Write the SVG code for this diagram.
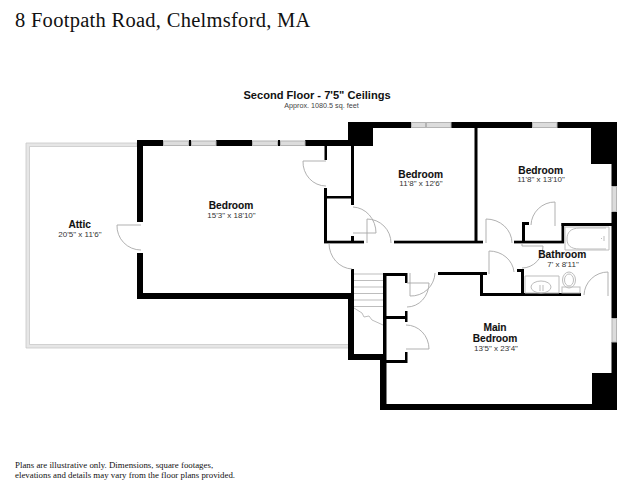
<svg xmlns="http://www.w3.org/2000/svg" width="640" height="494" viewBox="0 0 640 494">
<style>
.w{fill:#000}
.win{fill:#dcdcdc;stroke:#b4b4b4;stroke-width:1}
.d{fill:none;stroke:#a8a8a8;stroke-width:.9}
.f{fill:none;stroke:#bdbdbd;stroke-width:1}
.a{fill:#e6e6e6;stroke:#c8c8c8;stroke-width:.8}
text{font-family:"Liberation Sans",Arial,sans-serif;text-anchor:middle;fill:#111}
.n{font-size:10.2px;font-weight:bold;stroke:#111;stroke-width:.1}
.s{font-size:8px;fill:#333}
.t{font-family:"Liberation Serif","Times New Roman",serif;text-anchor:start}
</style>
<rect width="640" height="494" fill="#fff"/>
<g id="header">
<text class="t" x="15" y="27" font-size="20.5" letter-spacing=".28">8 Footpath Road, Chelmsford, MA</text>
<text x="317" y="99" font-size="11.100" font-weight="bold">Second Floor - 7'5" Ceilings</text>
<text x="321.500" y="107.500" font-size="7.200" style="fill:#444">Approx. 1080.5 sq. feet</text>
</g>
<g id="attic">
<path class="a" d="M137 143H26V348H349V344.500H29.500V146.500H137Z"/>
<text class="n" x="79.700" y="228">Attic</text>
<text class="s" x="80" y="236.700">20'5" x 11'6"</text>
</g>
<g id="walls">
<rect class="w" x="137" y="140" width="26" height="6"/>
<rect class="w" x="189" y="140" width="2" height="6"/>
<rect class="w" x="216" y="140" width="36" height="6"/>
<rect class="w" x="278" y="140" width="2" height="6"/>
<rect class="w" x="305" y="140" width="45" height="6"/>
<rect class="w" x="137" y="140" width="6" height="82"/>
<rect class="w" x="137" y="253" width="6" height="46"/>
<rect class="w" x="137" y="293" width="217" height="6"/>
<rect class="w" x="348" y="122" width="63" height="6"/>
<rect class="w" x="451" y="122" width="81" height="6"/>
<rect class="w" x="557" y="122" width="60" height="6"/>
<rect class="w" x="348" y="122" width="25" height="24"/>
<rect class="w" x="591" y="122" width="26" height="42"/>
<rect class="w" x="611.500" y="122" width="5.500" height="64"/>
<rect class="w" x="611.500" y="212" width="5.500" height="106"/>
<rect class="w" x="611.500" y="342" width="5.500" height="68"/>
<rect class="w" x="592" y="373" width="20" height="31"/>
<rect class="w" x="380" y="404" width="237" height="6"/>
<rect class="w" x="380" y="360" width="6.500" height="50"/>
<rect class="w" x="383" y="273" width="3.500" height="90"/>
<rect class="w" x="383" y="273" width="24" height="3"/>
<rect class="w" x="405" y="273" width="2.500" height="10"/>
<rect class="w" x="384" y="316" width="23" height="3"/>
<rect class="w" x="405" y="311" width="2.500" height="11"/>
<rect class="w" x="380" y="360" width="27" height="3"/>
<rect class="w" x="405" y="352" width="2.500" height="11"/>
<rect class="w" x="351" y="269" width="3" height="30"/>
<rect class="w" x="348" y="293" width="6" height="67"/>
<rect class="w" x="348" y="354" width="35" height="6"/>
<rect class="w" x="474.500" y="128" width="3" height="115"/>
<rect class="w" x="394" y="240.700" width="89" height="2.700"/>
<rect class="w" x="514" y="240.700" width="50" height="2.700"/>
<rect class="w" x="522" y="222" width="3" height="21"/>
<rect class="w" x="522" y="222" width="7" height="3"/>
<rect class="w" x="561.500" y="223" width="2.700" height="20"/>
<rect class="w" x="561.500" y="223" width="51" height="3"/>
<rect class="w" x="438" y="272" width="49" height="3"/>
<rect class="w" x="480" y="272" width="3" height="24"/>
<rect class="w" x="480" y="293" width="101" height="3"/>
<rect class="w" x="521" y="269" width="3" height="27"/>
<rect class="w" x="517" y="269" width="7" height="3"/>
<rect class="w" x="324.500" y="146" width="2.500" height="14"/>
<rect class="w" x="324" y="188" width="3" height="55"/>
<rect class="w" x="324" y="196" width="30" height="2.500"/>
<rect class="w" x="351" y="146" width="3" height="59"/>
<rect class="w" x="324" y="240.700" width="40" height="2.700"/>
<rect class="w" x="351" y="236" width="3" height="7"/>
</g>
<g id="windows">
<rect class="win" x="163.500" y="141" width="25" height="4.500"/>
<rect class="win" x="191.500" y="141" width="24.500" height="4.500"/>
<rect class="win" x="252.500" y="141" width="25" height="4.500"/>
<rect class="win" x="280.500" y="141" width="24.500" height="4.500"/>
<rect class="win" x="411.500" y="122.500" width="14" height="5"/>
<rect class="win" x="426.500" y="122.500" width="24.500" height="5"/>
<rect class="win" x="532.500" y="122.500" width="24.500" height="5"/>
<rect class="win" x="612" y="186.500" width="4.500" height="25"/>
<rect class="win" x="612" y="318.500" width="4.500" height="23.500"/>
</g>
<g id="connectors">
<path class="d" d="M141 225H117A24 24 0 0 0 141 250"/>
<path class="d" d="M326 161H303A23 24 0 0 0 326 186"/>
<path class="d" d="M353 233H376A24 26 0 0 0 353 207"/>
<path class="d" d="M367 243V219A24 24 0 0 1 391 243"/>
<path class="d" d="M329 243A24 26 0 0 0 352 269"/>
<path class="d" d="M486 243V219A26 24 0 0 1 512 243"/>
<path class="d" d="M555 226V202A24 24 0 0 0 531 225"/>
<path class="d" d="M489 274V251A25 23 0 0 1 514 272"/>
<path class="d" d="M522 243V246H543A21 22 0 0 1 522 268"/>
<path class="d" d="M608 296V272A24 24 0 0 0 584 295"/>
<path class="d" d="M410 273V296A24 24 0 0 0 435 273"/>
<path class="d" d="M407 283H429A22 24 0 0 1 407 307"/>
<path class="d" d="M406 349H429A23 24 0 0 0 406 325"/>
</g>
<g id="stairs">
<path class="f" d="M354 274H383M354 280.500H383M354 287H383M354 293.500H383M354 300H383M354 306.500H383M354 308L362 313L364 317L369 316L372 320L383 325"/>
</g>
<g id="fixtures">
<path class="f" d="M565 227H609V250H565Z"/>
<path class="f" d="M606 228H580C570 228 567 233 567 239C567 245 570 249 580 249H606"/>
<path class="f" d="M604 236V241M601 238.500H602"/>
<path class="f" d="M525 276H559V293H525Z"/>
<ellipse class="f" cx="541" cy="287" rx="10" ry="6" stroke-width="2"/>
<path class="f" d="M540 285V291M543 285V291"/>
<ellipse class="f" cx="569" cy="280" rx="6.500" ry="8"/>
<ellipse class="f" cx="569" cy="280" rx="4.500" ry="6"/>
<rect class="f" x="562" y="287" width="18" height="6"/>
</g>
<g id="labels">
<g id="bedroom-1"><text class="n" x="231" y="209">Bedroom</text><text class="s" x="231.500" y="217.500">15'3" x 18'10"</text></g>
<g id="bedroom-2"><text class="n" x="420.700" y="177.700">Bedroom</text><text class="s" x="421" y="186.300">11'8" x 12'6"</text></g>
<g id="bedroom-3"><text class="n" x="540.700" y="173.500">Bedroom</text><text class="s" x="541" y="182">11'8" x 13'10"</text></g>
<g id="bathroom"><text class="n" x="562.300" y="258">Bathroom</text><text class="s" x="563" y="266.700">7' x 8'11"</text></g>
<g id="main-bedroom"><text class="n" x="495" y="331">Main</text><text class="n" x="495" y="342">Bedroom</text><text class="s" x="496" y="350.500">13'5" x 23'4"</text></g>
</g>
<g id="footer" font-size="8.850">
<text class="t" x="15" y="467.700">Plans are illustrative only. Dimensions, square footages,</text>
<text class="t" x="15" y="477.700">elevations and details may vary from the floor plans provided.</text>
</g>
</svg>
